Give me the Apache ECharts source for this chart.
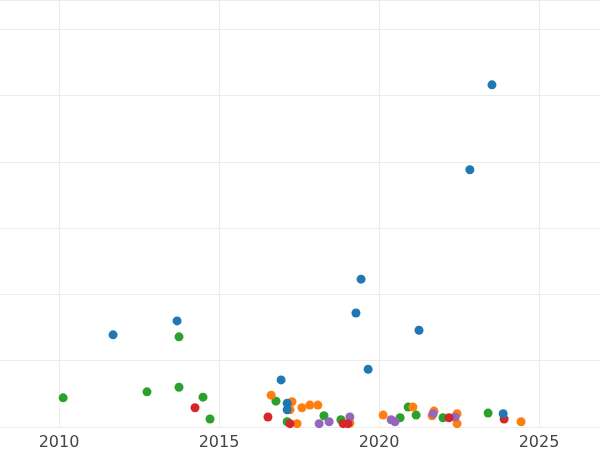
<!DOCTYPE html>
<html>
<head>
<meta charset="utf-8">
<script src="https://cdn.jsdelivr.net/npm/echarts@6/dist/echarts.min.js"></script>
<style>html,body{margin:0;padding:0;background:#fff}#chart{width:600px;height:450px}</style>
</head>
<body>
<div id="chart"></div>
<script>
// points: [year, value]
var blueData = [[2011.69,13.9],[2013.69,16.0],[2016.94,7.1],[2017.13,3.6],[2017.13,2.6],[2019.28,17.2],[2019.44,22.3],[2019.66,8.7],[2021.25,14.6],[2022.84,38.8],[2023.53,51.6],[2023.88,2.0]];
var greenData = [[2010.13,4.4],[2012.75,5.3],[2013.75,13.6],[2013.75,6.0],[2014.5,4.5],[2014.72,1.2],[2016.78,3.9],[2017.13,0.8],[2018.28,1.7],[2018.81,1.1],[2020.66,1.4],[2020.91,3.0],[2021.16,1.8],[2022.0,1.4],[2023.41,2.1]];
var redData = [[2014.25,2.9],[2016.53,1.5],[2017.22,0.5],[2018.88,0.5],[2019.03,0.5],[2022.19,1.4],[2023.91,1.2]];
var orangeData = [[2016.63,4.8],[2017.28,3.8],[2017.22,2.6],[2017.44,0.5],[2017.59,2.9],[2017.84,3.3],[2018.09,3.3],[2019.09,0.6],[2020.13,1.8],[2021.06,3.0],[2021.72,2.4],[2021.66,1.7],[2022.44,2.0],[2022.44,0.5],[2024.44,0.8]];
var purpleData = [[2018.13,0.5],[2018.44,0.8],[2019.09,1.5],[2020.38,1.1],[2020.5,0.8],[2021.69,2.0],[2022.38,1.5]];

var dom = document.getElementById("chart");
var myChart = echarts.init(dom);

function mk(data, color){
    return {type:'scatter', data:data, symbolSize:9, itemStyle:{color:color, opacity:1}};
}

var option = {
    animation: false,
    grid: {left: -101, right: -99, top: 0, bottom: 23, containLabel: false, outerBoundsMode: 'none'},
    xAxis: {
        type: 'value', min: 2005, max: 2030, interval: 5,
        axisLine: {show: false}, axisTick: {show: false},
        axisLabel: {color: '#444', fontSize: 16, fontFamily: 'DejaVu Sans', formatter: function(v){ return String(v); }},
        splitLine: {lineStyle: {color: '#ebebeb'}}
    },
    yAxis: {
        type: 'value', min: 0, max: 64.4, interval: 10,
        axisLine: {show: false}, axisTick: {show: false},
        axisLabel: {show: false},
        splitLine: {lineStyle: {color: '#ebebeb'}}
    },
    series: [
        mk(greenData, '#2ca02c'),
        mk(orangeData, '#ff7f0e'),
        mk(purpleData, '#9467bd'),
        mk(redData, '#d62728'),
        mk(blueData, '#1f77b4')
    ]
};
myChart.setOption(option, true);
</script>
</body>
</html>
